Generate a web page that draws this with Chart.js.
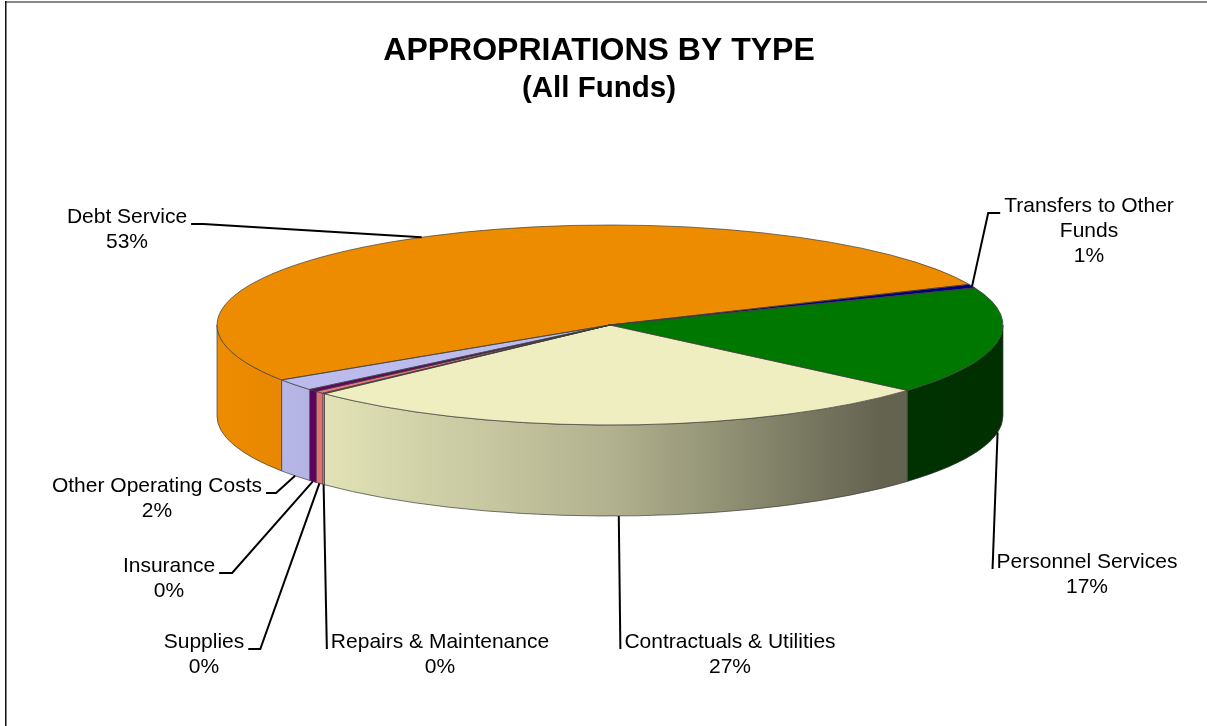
<!DOCTYPE html>
<html>
<head>
<meta charset="utf-8">
<title>Appropriations by Type</title>
<script src="https://cdn.jsdelivr.net/npm/chart.js@4/dist/chart.umd.min.js"></script>
<style>
  html, body { margin: 0; padding: 0; background: #fff; }
  canvas { display: block; }
</style>
</head>
<body>
<canvas id="approChart" width="1207" height="726"></canvas>
<script>
// share of total appropriations, all funds (%)
const categories = [
  "Personnel Services",
  "Contractuals & Utilities",
  "Repairs & Maintenance",
  "Supplies",
  "Insurance",
  "Other Operating Costs",
  "Debt Service",
  ["Transfers to Other", "Funds"]
];
const amounts = [17.4, 26.6, 0.1, 0.4, 0.4, 1.9, 52.6, 0.6];
const sliceColors = ["#007800", "#EEEEC0", "#F4A3A3", "#EE7777", "#660066", "#BBBBEE", "#EE8C00", "#000080"];

// label layout: centre of first text line, which side the leader leaves from, elbow length
const labelCenters = [[1087, 562], [730, 642], [440, 642], [204, 642], [169, 566], [157, 486], [127, 217], [1089, 206]];
const labelSides = ["left", "left", "left", "right", "right", "right", "right", "left"];
const leaderElbows = [0, 0, 0, 12, 13, 10, 12, 12];

const FONT = "Arial, 'Liberation Sans', sans-serif";
const PIE = { cx: 610, cy: 325, rx: 393, ry: 100, depth: 91 };

function shade(hex, f) {
  const n = parseInt(hex.slice(1), 16);
  const r = Math.round(((n >> 16) & 255) * f);
  const g = Math.round(((n >> 8) & 255) * f);
  const b = Math.round((n & 255) * f);
  return `rgb(${r},${g},${b})`;
}

// parts of an arc that face the viewer (lower half of the ellipse)
function frontPieces(s, e) {
  const out = [];
  for (let k = -1; k <= 2; k++) {
    const lo = Math.max(s, 2 * Math.PI * k);
    const hi = Math.min(e, 2 * Math.PI * k + Math.PI);
    if (hi > lo) out.push([lo, hi]);
  }
  return out;
}

function sidePath(ctx, lo, hi) {
  ctx.beginPath();
  ctx.ellipse(PIE.cx, PIE.cy, PIE.rx, PIE.ry, 0, lo, hi, false);
  ctx.ellipse(PIE.cx, PIE.cy + PIE.depth, PIE.rx, PIE.ry, 0, hi, lo, true);
  ctx.closePath();
}

const tiltPlugin = {
  id: "tilt",
  beforeDraw(chart) {
    const ctx = chart.ctx;
    ctx.save();
    ctx.fillStyle = "#888";
    ctx.fillRect(5, 1, 1202, 2);
    ctx.fillStyle = "#111";
    ctx.fillRect(5, 1, 1.5, 725);
    ctx.restore();
  },
  beforeDatasetsDraw(chart) {
    const ctx = chart.ctx;
    const arcs = chart.getDatasetMeta(0).data;
    // side walls, lit from the left
    const stops = [[0, 1.0], [0.14, 0.95], [0.51, 0.74], [0.84, 0.42], [1, 0.40]];
    arcs.forEach((arc, i) => {
      frontPieces(arc.startAngle, arc.endAngle).forEach(([lo, hi]) => {
        const grad = ctx.createLinearGradient(PIE.cx - PIE.rx, 0, PIE.cx + PIE.rx, 0);
        stops.forEach(([t, f]) => grad.addColorStop(t, shade(sliceColors[i], f)));
        ctx.save();
        sidePath(ctx, lo, hi);
        ctx.fillStyle = grad;
        ctx.fill();
        ctx.strokeStyle = "#3c3c3c";
        ctx.lineWidth = 0.7;
        ctx.stroke();
        ctx.restore();
      });
    });
    // squash the flat pie into the tilted top face
    const a = arcs[0];
    ctx.save();
    ctx.translate(PIE.cx, PIE.cy);
    ctx.scale(PIE.rx / a.outerRadius, PIE.ry / a.outerRadius);
    ctx.translate(-a.x, -a.y);
  },
  afterDatasetsDraw(chart) {
    const ctx = chart.ctx;
    ctx.restore();
    const arcs = chart.getDatasetMeta(0).data;
    ctx.save();
    ctx.strokeStyle = "#3c3c3c";
    ctx.lineWidth = 0.7;
    arcs.forEach(arc => {
      ctx.beginPath();
      ctx.moveTo(PIE.cx, PIE.cy);
      ctx.ellipse(PIE.cx, PIE.cy, PIE.rx, PIE.ry, 0, arc.startAngle, arc.endAngle, false);
      ctx.closePath();
      ctx.stroke();
    });
    ctx.restore();
  },
  afterDraw(chart) {
    const ctx = chart.ctx;
    const arcs = chart.getDatasetMeta(0).data;
    const total = amounts.reduce((s, v) => s + v, 0);
    ctx.save();
    ctx.font = `21px ${FONT}`;
    ctx.fillStyle = "#000";
    ctx.textAlign = "center";
    ctx.textBaseline = "middle";
    arcs.forEach((arc, i) => {
      const lines = [].concat(categories[i], Math.round(amounts[i] / total * 100) + "%");
      const [lx, ly] = labelCenters[i];
      lines.forEach((t, j) => ctx.fillText(t, lx, ly + j * 25.3));

      // leader: from the label edge to the middle of the slice rim
      const w = Math.max(...lines.map(t => ctx.measureText(t).width));
      const side = labelSides[i];
      const sx = side === "left" ? lx - w / 2 - 4 : lx + w / 2 + 4;
      const sy = ly + 7;
      const ex = sx + (side === "left" ? -leaderElbows[i] : leaderElbows[i]);
      const mid = (arc.startAngle + arc.endAngle) / 2;
      const front = Math.sin(mid) > 0;
      const tx = PIE.cx + PIE.rx * Math.cos(mid);
      const ty = PIE.cy + PIE.ry * Math.sin(mid) + (front ? PIE.depth : 0);
      ctx.beginPath();
      ctx.moveTo(sx, sy);
      ctx.lineTo(ex, sy);
      ctx.lineTo(tx, ty);
      ctx.strokeStyle = "#000";
      ctx.lineWidth = 2;
      ctx.stroke();
    });
    ctx.restore();
  }
};

new Chart(document.getElementById("approChart"), {
  type: "pie",
  data: {
    labels: categories,
    datasets: [{
      data: amounts,
      backgroundColor: sliceColors,
      borderWidth: 0
    }]
  },
  options: {
    responsive: false,
    animation: false,
    events: [],
    rotation: 68.2,
    layout: { padding: { left: 0, right: 9, top: 0, bottom: 0 } },
    plugins: {
      legend: { display: false },
      tooltip: { enabled: false },
      title: {
        display: true,
        text: "APPROPRIATIONS BY TYPE",
        color: "#000",
        font: { family: FONT, size: 32, weight: "bold" },
        padding: { top: 32, bottom: 0 }
      },
      subtitle: {
        display: true,
        text: "(All Funds)",
        color: "#000",
        font: { family: FONT, size: 29.5, weight: "bold" },
        padding: { top: 1, bottom: 0 }
      }
    }
  },
  plugins: [tiltPlugin]
});
</script>
</body>
</html>
